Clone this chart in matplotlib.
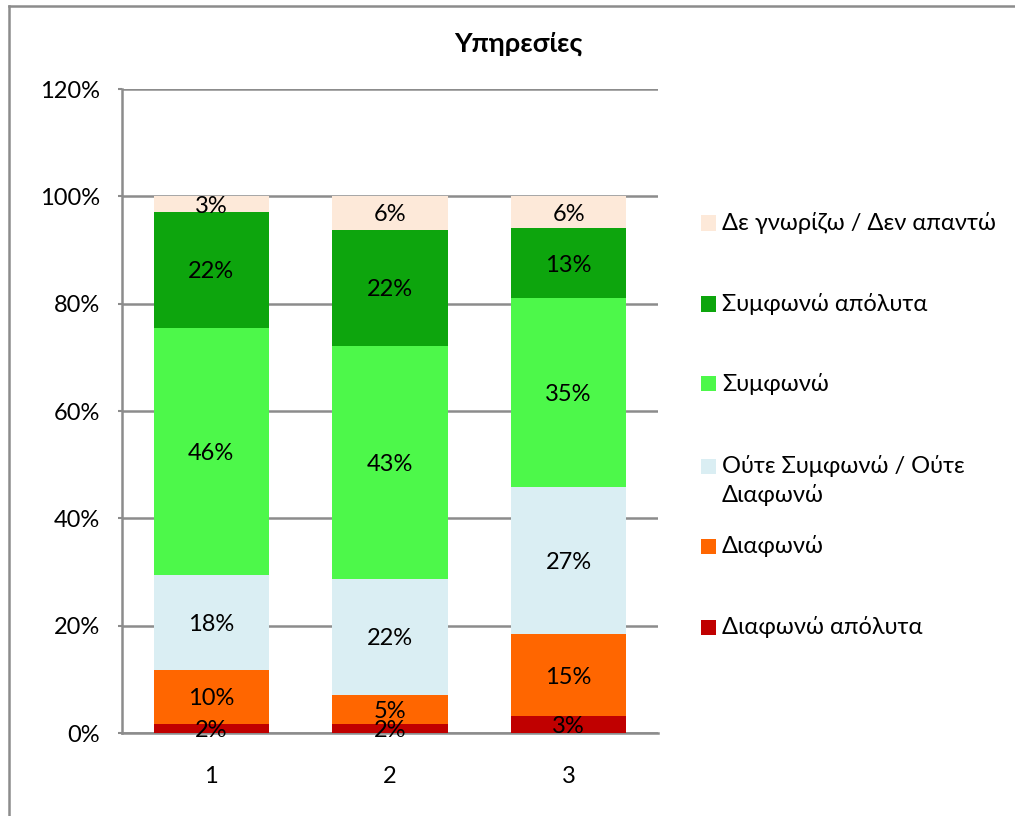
import matplotlib
matplotlib.use("Agg")
import matplotlib.pyplot as plt
from matplotlib.patches import Rectangle
from matplotlib.lines import Line2D
import numpy as np

plt.rcParams['font.family'] = ['Lato', 'DejaVu Sans']

categories = ["1", "2", "3"]
series_names = [
    "Διαφωνώ απόλυτα",
    "Διαφωνώ",
    "Ούτε Συμφωνώ / Ούτε\nΔιαφωνώ",
    "Συμφωνώ",
    "Συμφωνώ απόλυτα",
    "Δε γνωρίζω / Δεν απαντώ",
]
diafono_apolyta = [1.7, 1.7, 3.2]
diafono = [10.1, 5.4, 15.2]
oute = [17.6, 21.6, 27.4]
symfono = [46.1, 43.4, 35.2]
symfono_apolyta = [21.6, 21.7, 13.1]
den_gnorizo = [2.9, 6.2, 5.9]
series_values = [diafono_apolyta, diafono, oute, symfono, symfono_apolyta, den_gnorizo]
colors = ["#C00000", "#FF6600", "#DAEEF3", "#4DF84A", "#0DA50D", "#FDE9D9"]
y_ticks = [0, 20, 40, 60, 80, 100, 120]

W, H = 1015, 816
FS = 17
GRID = "#8C8C8C"
fig = plt.figure(figsize=(W / 100, H / 100), dpi=100)


def fx(px):
    return px / W


def fy(py):
    return 1 - py / H


ax = fig.add_axes([fx(122), fy(733), fx(658) - fx(122), fy(89) - fy(733)])

x = np.arange(1, len(categories) + 1)
bottom = np.zeros(len(categories))
for vals, col in zip(series_values, colors):
    vals = np.array(vals, dtype=float)
    ax.bar(x, vals, width=0.645, bottom=bottom, color=col, zorder=3)
    for xi, v, b in zip(x, vals, bottom):
        ax.text(xi, b + v / 2, f"{v:.0f}%", ha="center", va="center_baseline",
                fontsize=FS, color="black", zorder=4)
    bottom += vals

ax.set_xlim(0.5, 3.5)
ax.set_ylim(0, 120)
ax.set_yticks(y_ticks)
ax.set_yticklabels([f"{t}%" for t in y_ticks], fontsize=FS)
ax.set_xticks(x)
ax.set_xticklabels(categories, fontsize=FS)
ax.tick_params(axis="x", length=0, pad=24)
ax.tick_params(axis="y", length=3, color=GRID, width=1.5, pad=13)
ax.grid(axis="y", color=GRID, linewidth=1.8, zorder=0)
for s in ["top", "right"]:
    ax.spines[s].set_visible(False)
for s in ["left", "bottom"]:
    ax.spines[s].set_color(GRID)
    ax.spines[s].set_linewidth(1.8)

fig.text(fx(518), fy(44), "Υπηρεσίες", ha="center", va="center",
         fontsize=19.5, fontweight="bold")

# legend, drawn top to bottom
legend_y = [223, 304, 384, 466, 546, 627]
for name, col, yy in zip(series_names[::-1], colors[::-1], legend_y):
    fig.patches.append(Rectangle((fx(701), fy(yy + 7.5)), fx(15), 15 / H,
                                 transform=fig.transFigure, facecolor=col,
                                 edgecolor="none"))
    for k, line in enumerate(name.split("\n")):
        fig.text(fx(722), fy(yy + 29 * k), line, ha="left", va="center",
                 fontsize=FS)

# outer chart frame
fig.add_artist(Line2D([fx(8.5), fx(8.5)], [fy(5.5), 0], transform=fig.transFigure,
                      color=GRID, linewidth=1.8))
fig.add_artist(Line2D([fx(8.5), 1], [fy(5.5), fy(5.5)], transform=fig.transFigure,
                      color=GRID, linewidth=1.8))

fig.savefig("out.png", dpi=100)
